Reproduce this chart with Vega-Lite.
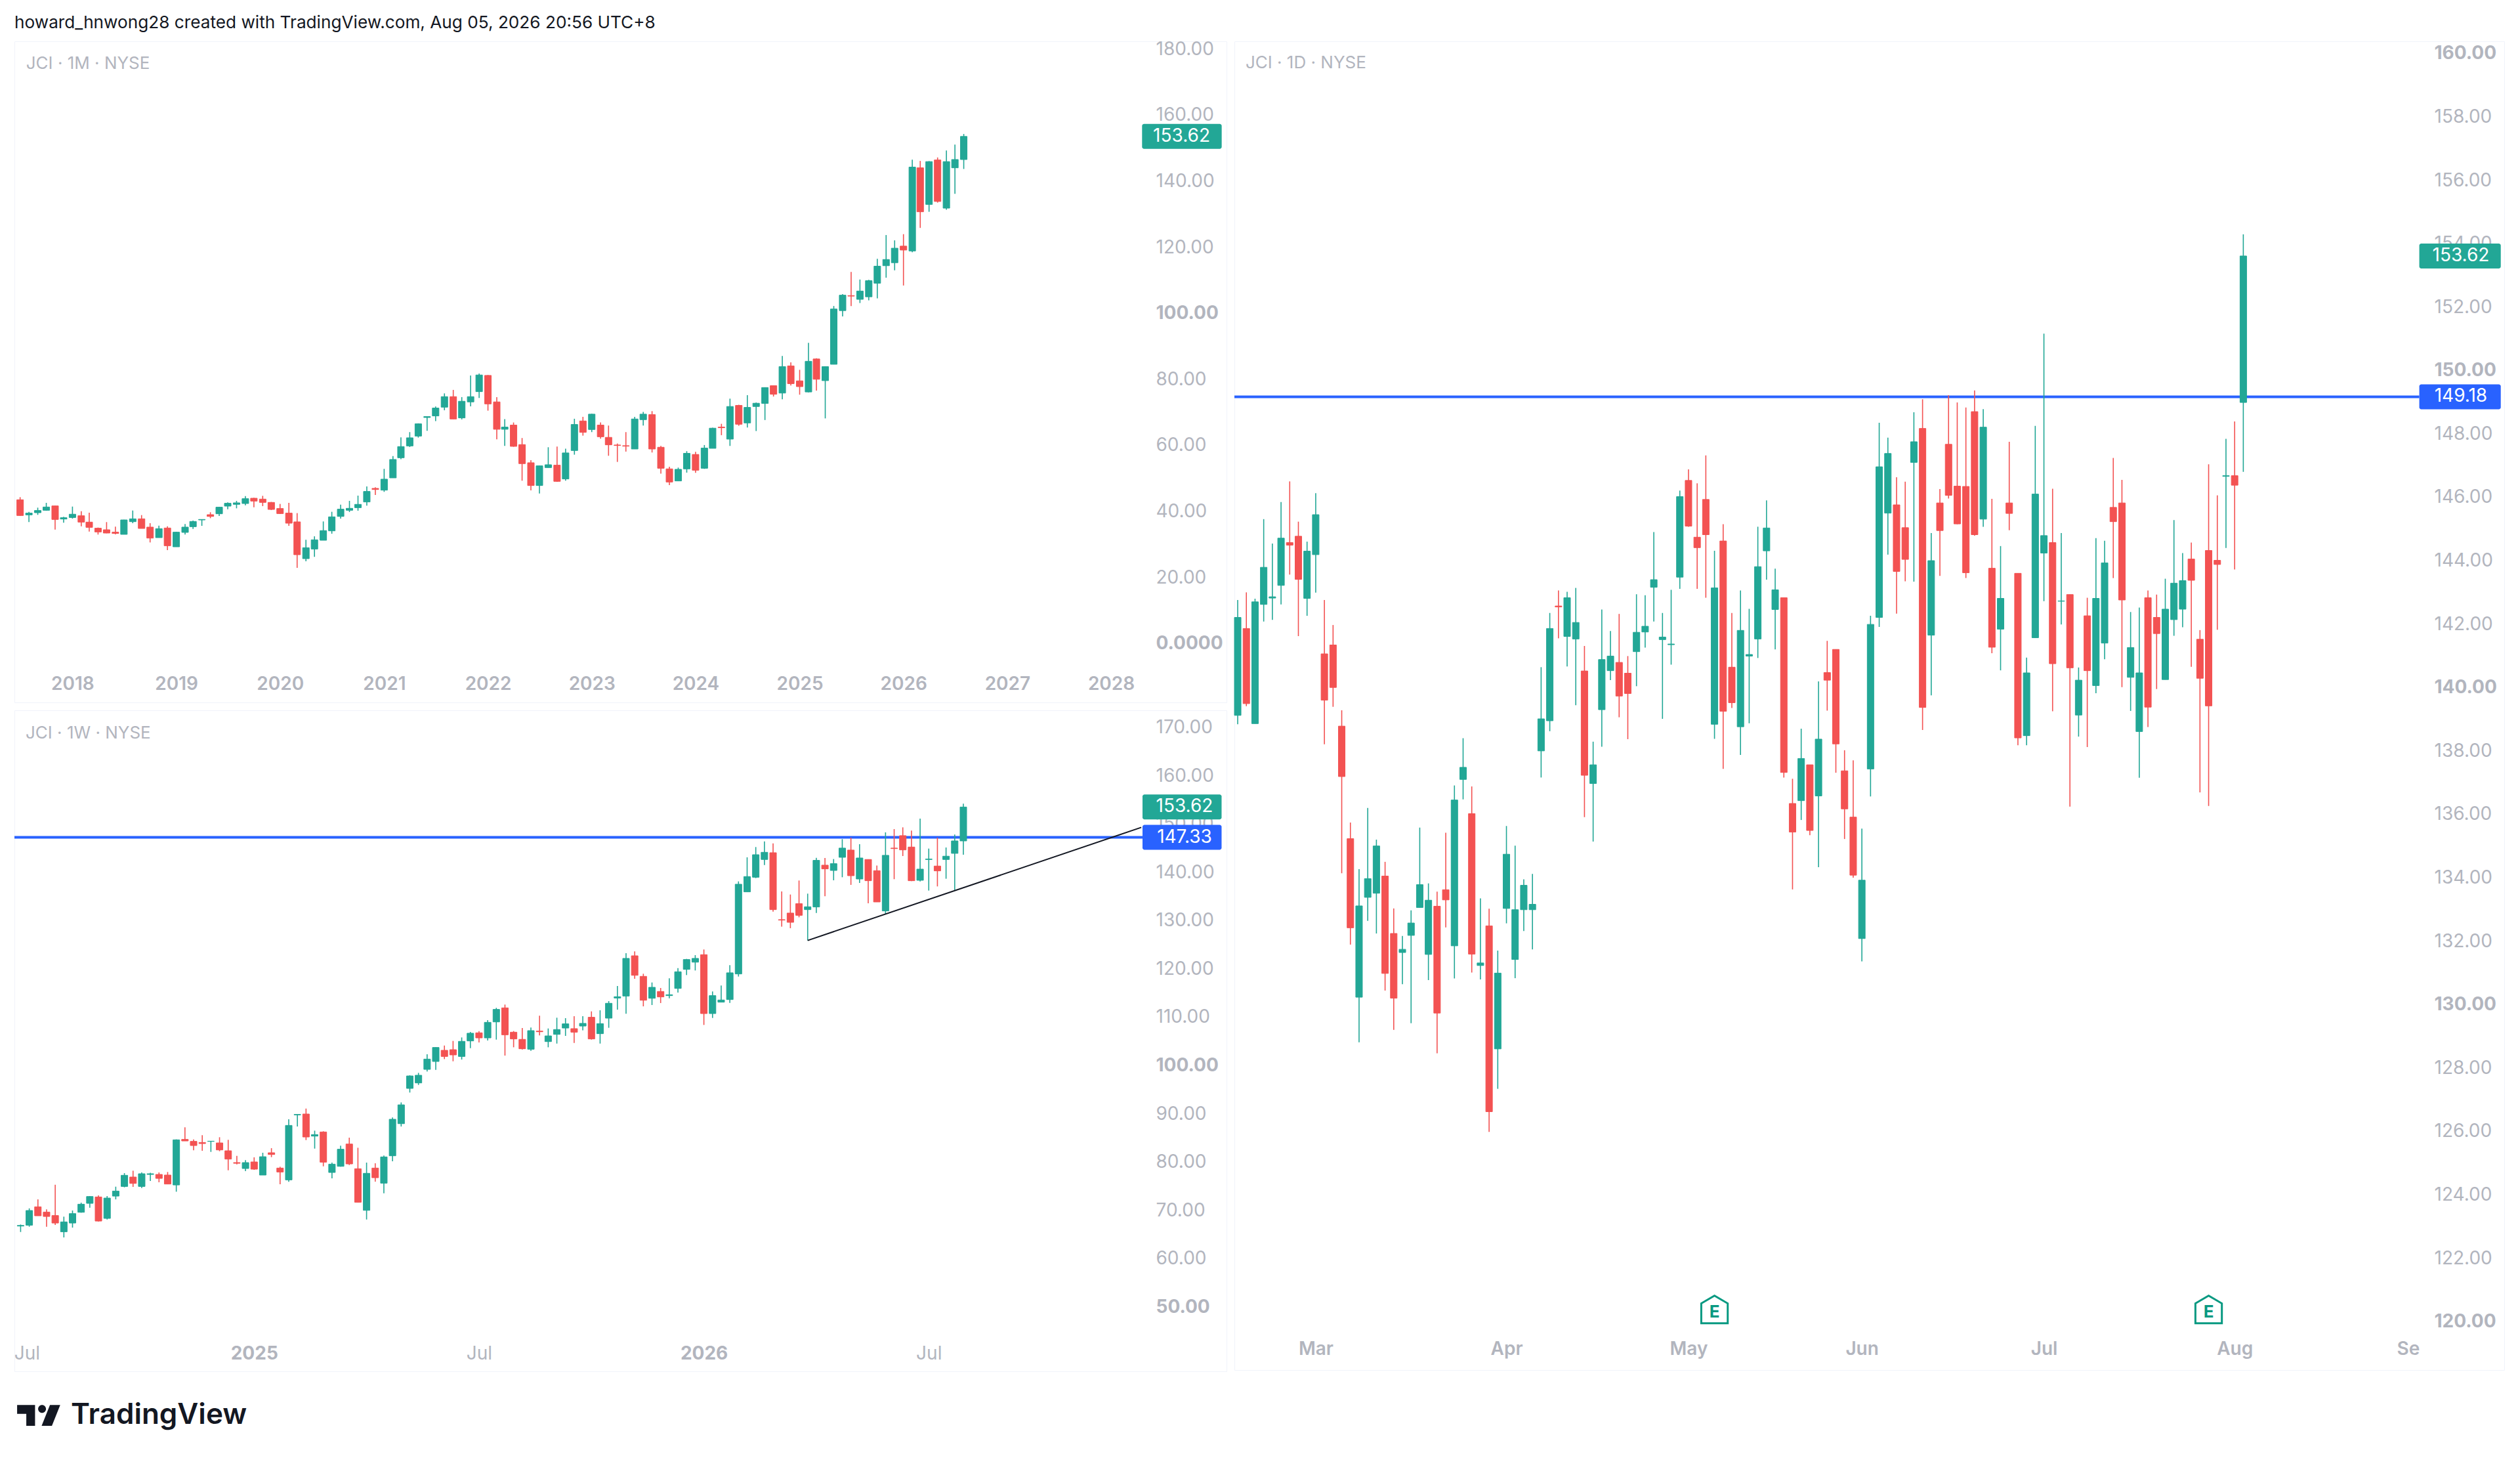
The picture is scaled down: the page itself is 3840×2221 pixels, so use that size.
{"$schema":"https://vega.github.io/schema/vega-lite/v6.json","background":"#ffffff","padding":{"left":19,"top":22,"right":0,"bottom":0},"spacing":8,"title":{"text":"howard_hnwong28 created with TradingView.com, Aug 05, 2026 20:56 UTC+8","anchor":"start","frame":"group","font":"Inter","fontSize":26.2,"fontWeight":400,"color":"#131722","offset":12},"config":{"view":{"stroke":"#f0f3fa"},"font":"Inter"},"hconcat":[{"vconcat":[{"width":1847,"height":1007,"data":{"values":[
{"d":"2017-07-01","o":43.64,"h":44.43,"l":38.80,"c":38.87},{"d":"2017-08-01","o":39.07,"h":40.00,"l":36.88,"c":39.60},{"d":"2017-09-01","o":39.73,"h":41.25,"l":39.07,"c":40.39},{"d":"2017-10-01","o":40.46,"h":42.71,"l":40.33,"c":41.45},{"d":"2017-11-01","o":41.78,"h":41.86,"l":34.63,"c":37.68},{"d":"2017-12-01","o":37.81,"h":38.47,"l":36.68,"c":38.21},
{"d":"2018-01-01","o":38.27,"h":41.58,"l":37.94,"c":39.27},{"d":"2018-02-01","o":38.80,"h":40.19,"l":35.62,"c":36.88},{"d":"2018-03-01","o":36.88,"h":39.73,"l":34.03,"c":35.29},{"d":"2018-04-01","o":35.03,"h":35.23,"l":33.11,"c":33.90},{"d":"2018-05-01","o":34.56,"h":36.88,"l":33.50,"c":33.57},{"d":"2018-06-01","o":33.83,"h":35.49,"l":33.17,"c":33.44},{"d":"2018-07-01","o":33.17,"h":37.61,"l":33.17,"c":37.54},{"d":"2018-08-01","o":37.01,"h":40.39,"l":36.55,"c":37.87},{"d":"2018-09-01","o":37.87,"h":39.00,"l":34.96,"c":34.96},{"d":"2018-10-01","o":35.36,"h":36.55,"l":30.72,"c":32.04},{"d":"2018-11-01","o":32.18,"h":35.82,"l":32.18,"c":34.89},{"d":"2018-12-01","o":35.09,"h":35.62,"l":28.40,"c":29.73},
{"d":"2019-01-01","o":29.40,"h":33.97,"l":29.40,"c":33.83},{"d":"2019-02-01","o":33.77,"h":36.28,"l":33.11,"c":35.36},{"d":"2019-03-01","o":35.49,"h":37.35,"l":34.83,"c":37.08},{"d":"2019-04-01","o":37.54,"h":37.74,"l":35.75,"c":37.68},{"d":"2019-05-01","o":39.13,"h":39.86,"l":38.07,"c":38.60},{"d":"2019-06-01","o":39.40,"h":41.45,"l":38.74,"c":41.39},{"d":"2019-07-01","o":41.72,"h":42.84,"l":40.79,"c":42.58},{"d":"2019-08-01","o":42.25,"h":43.31,"l":41.05,"c":42.71},{"d":"2019-09-01","o":42.51,"h":44.76,"l":41.98,"c":43.97},{"d":"2019-10-01","o":44.10,"h":44.24,"l":41.39,"c":43.24},{"d":"2019-11-01","o":43.84,"h":44.83,"l":41.72,"c":42.84},{"d":"2019-12-01","o":42.84,"h":42.98,"l":40.52,"c":40.72},
{"d":"2020-01-01","o":40.99,"h":42.38,"l":39.33,"c":39.46},{"d":"2020-02-01","o":39.60,"h":42.71,"l":35.75,"c":36.55},{"d":"2020-03-01","o":36.95,"h":39.60,"l":23.03,"c":27.01},{"d":"2020-04-01","o":25.82,"h":31.52,"l":25.02,"c":29.13},{"d":"2020-05-01","o":28.73,"h":32.58,"l":26.35,"c":31.52},{"d":"2020-06-01","o":31.38,"h":37.08,"l":31.38,"c":34.30},{"d":"2020-07-01","o":34.23,"h":40.00,"l":33.37,"c":38.47},{"d":"2020-08-01","o":38.60,"h":42.18,"l":37.94,"c":40.79},{"d":"2020-09-01","o":40.46,"h":43.31,"l":39.93,"c":41.05},{"d":"2020-10-01","o":41.25,"h":44.90,"l":40.33,"c":42.25},{"d":"2020-11-01","o":42.98,"h":47.68,"l":41.86,"c":46.16},{"d":"2020-12-01","o":47.08,"h":47.42,"l":45.10,"c":46.75},
{"d":"2021-01-01","o":46.56,"h":52.99,"l":46.03,"c":49.87},{"d":"2021-02-01","o":50.27,"h":56.89,"l":50.27,"c":55.83},{"d":"2021-03-01","o":56.36,"h":62.53,"l":55.90,"c":59.74},{"d":"2021-04-01","o":59.94,"h":64.12,"l":59.61,"c":62.39},{"d":"2021-05-01","o":62.92,"h":66.77,"l":62.46,"c":66.63},{"d":"2021-06-01","o":68.55,"h":68.82,"l":64.51,"c":68.82},{"d":"2021-07-01","o":69.02,"h":71.87,"l":67.43,"c":71.40},{"d":"2021-08-01","o":71.67,"h":75.84,"l":70.74,"c":74.85},{"d":"2021-09-01","o":74.85,"h":76.90,"l":68.09,"c":68.09},{"d":"2021-10-01","o":68.42,"h":74.72,"l":67.96,"c":73.46},{"d":"2021-11-01","o":73.26,"h":81.27,"l":71.93,"c":74.85},{"d":"2021-12-01","o":76.37,"h":81.87,"l":74.45,"c":81.41},
{"d":"2022-01-01","o":81.27,"h":81.41,"l":70.61,"c":72.66},{"d":"2022-02-01","o":73.26,"h":74.72,"l":61.93,"c":64.98},{"d":"2022-03-01","o":64.98,"h":68.02,"l":59.94,"c":65.64},{"d":"2022-04-01","o":66.24,"h":67.03,"l":59.68,"c":59.81},{"d":"2022-05-01","o":60.34,"h":62.33,"l":49.41,"c":54.58},{"d":"2022-06-01","o":54.84,"h":55.64,"l":46.49,"c":47.95},{"d":"2022-07-01","o":47.95,"h":54.05,"l":45.56,"c":53.91},{"d":"2022-08-01","o":53.38,"h":59.54,"l":53.38,"c":54.24},{"d":"2022-09-01","o":54.11,"h":59.74,"l":49.08,"c":49.21},{"d":"2022-10-01","o":49.94,"h":59.08,"l":49.41,"c":57.82},{"d":"2022-11-01","o":58.55,"h":68.16,"l":57.29,"c":66.43},{"d":"2022-12-01","o":67.49,"h":68.75,"l":63.05,"c":64.05},
{"d":"2023-01-01","o":64.91,"h":69.68,"l":64.12,"c":69.55},{"d":"2023-02-01","o":66.24,"h":67.03,"l":62.13,"c":62.72},{"d":"2023-03-01","o":62.53,"h":66.10,"l":56.96,"c":60.27},{"d":"2023-04-01","o":60.21,"h":60.67,"l":55.10,"c":60.07},{"d":"2023-05-01","o":60.01,"h":64.12,"l":58.22,"c":59.87},{"d":"2023-06-01","o":59.01,"h":68.75,"l":59.01,"c":68.09},{"d":"2023-07-01","o":67.89,"h":70.21,"l":66.10,"c":69.55},{"d":"2023-08-01","o":69.41,"h":70.47,"l":57.95,"c":59.01},{"d":"2023-09-01","o":59.54,"h":59.94,"l":51.53,"c":53.18},{"d":"2023-10-01","o":52.99,"h":53.65,"l":48.08,"c":49.01},{"d":"2023-11-01","o":49.34,"h":53.38,"l":49.34,"c":52.85},{"d":"2023-12-01","o":52.99,"h":58.35,"l":51.86,"c":57.69},
{"d":"2024-01-01","o":57.36,"h":58.15,"l":51.79,"c":52.59},{"d":"2024-02-01","o":53.18,"h":60.21,"l":52.99,"c":59.28},{"d":"2024-03-01","o":59.21,"h":65.44,"l":59.21,"c":65.31},{"d":"2024-04-01","o":65.64,"h":66.63,"l":63.19,"c":65.44},{"d":"2024-05-01","o":62.00,"h":74.25,"l":59.94,"c":71.87},{"d":"2024-06-01","o":72.20,"h":72.40,"l":66.04,"c":66.50},{"d":"2024-07-01","o":66.90,"h":75.31,"l":65.51,"c":71.60},{"d":"2024-08-01","o":71.87,"h":73.06,"l":64.45,"c":72.86},{"d":"2024-09-01","o":72.80,"h":77.68,"l":67.78,"c":77.61},{"d":"2024-10-01","o":78.17,"h":78.24,"l":74.89,"c":75.59},{"d":"2024-11-01","o":75.94,"h":87.16,"l":74.05,"c":83.95},{"d":"2024-12-01","o":84.16,"h":85.21,"l":78.24,"c":78.79},
{"d":"2025-01-01","o":79.63,"h":82.98,"l":75.45,"c":77.89},{"d":"2025-02-01","o":76.28,"h":91.13,"l":76.14,"c":85.56},{"d":"2025-03-01","o":86.26,"h":86.46,"l":76.70,"c":80.12},{"d":"2025-04-01","o":79.70,"h":84.02,"l":68.27,"c":83.95},{"d":"2025-05-01","o":84.65,"h":102.29,"l":84.65,"c":101.38},{"d":"2025-06-01","o":100.90,"h":105.92,"l":99.15,"c":105.57},{"d":"2025-07-01","o":105.43,"h":112.61,"l":102.29,"c":105.29},{"d":"2025-08-01","o":104.31,"h":110.31,"l":103.20,"c":106.82},{"d":"2025-09-01","o":105.08,"h":110.24,"l":104.03,"c":109.96},{"d":"2025-10-01","o":109.19,"h":116.58,"l":104.59,"c":114.35},{"d":"2025-11-01","o":114.49,"h":123.77,"l":110.87,"c":116.37},{"d":"2025-12-01","o":115.40,"h":122.16,"l":113.10,"c":119.79},
{"d":"2026-01-01","o":120.42,"h":124.04,"l":108.50,"c":119.23},{"d":"2026-02-01","o":118.95,"h":146.56,"l":118.54,"c":144.33},{"d":"2026-03-01","o":144.12,"h":146.21,"l":125.93,"c":130.81},{"d":"2026-04-01","o":133.04,"h":146.14,"l":130.81,"c":146.00},{"d":"2026-05-01","o":146.49,"h":147.26,"l":133.59,"c":133.94},{"d":"2026-06-01","o":131.92,"h":149.35,"l":131.43,"c":146.00},{"d":"2026-07-01","o":144.12,"h":151.16,"l":136.24,"c":146.63},{"d":"2026-08-01","o":146.63,"h":154.37,"l":143.77,"c":153.62}
]},"layer":[
{"mark":{"type":"rule","size":1.6},"encoding":{"x":{"field":"d","type":"temporal","scale":{"type":"utc","domain":["2017-06-11","2029-02-10"],"padding":0},"axis":{"title":null,"domain":false,"ticks":false,"grid":false,"labelPadding":-28,"labelBaseline":"middle","labelColor":"#b2b5be","labelFontSize":28,"labelFont":"Inter","labelFontWeight":600,"labelFlush":false,"labelOverlap":false,"values":["2018-01-01","2019-01-01","2020-01-01","2021-01-01","2022-01-01","2023-01-01","2024-01-01","2025-01-01","2026-01-01","2027-01-01","2028-01-01"],"labelExpr":"utcFormat(datum.value,'%Y')"}},"y":{"field":"l","type":"quantitative","scale":{"domain":[-17.7,182.4],"nice":false,"zero":false,"padding":0},"axis":{"title":null,"orient":"right","domain":false,"ticks":false,"grid":false,"labelPadding":-108,"labelAlign":"left","labelColor":"#b2b5be","labelFontSize":28,"labelFont":"Inter","labelOverlap":false,"labelFlush":false,"values":[0,20,40,60,80,100,120,140,160,180],"labelExpr":"datum.value==0?'0.0000':format(datum.value,'.2f')","labelFontWeight":{"condition":{"test":"datum.value==0||datum.value==100","value":700},"value":400}}},"y2":{"field":"h"},"color":{"condition":{"test":"datum.c>=datum.o","value":"#22a796"},"value":"#f35252"}}},
{"mark":{"type":"bar","size":10,"strokeWidth":1},"encoding":{"x":{"field":"d","type":"temporal"},"y":{"field":"o","type":"quantitative"},"y2":{"field":"c"},"color":{"condition":{"test":"datum.c>=datum.o","value":"#22a796"},"value":"#f35252"},"stroke":{"condition":{"test":"datum.c>=datum.o","value":"#22a796"},"value":"#f35252"}}},
{"data":{"values":[{"price":153.62}]},"mark":{"type":"bar","orient":"horizontal","size":38,"cornerRadius":3,"color":"#22a796"},"encoding":{"x":{"datum":{"year":2028,"month":4,"date":19,"utc":true},"type":"temporal"},"x2":{"datum":{"year":2029,"month":1,"date":24,"utc":true}},"y":{"field":"price","type":"quantitative"}}},
{"data":{"values":[{"price":153.62}]},"mark":{"type":"text","font":"Inter","fontSize":28,"color":"#ffffff"},"encoding":{"x":{"datum":{"year":2028,"month":9,"date":5,"utc":true},"type":"temporal"},"y":{"field":"price","type":"quantitative"},"text":{"field":"price","type":"quantitative","format":".2f"}}},
{"data":{"values":[{"label":"JCI · 1M · NYSE"}]},"mark":{"type":"text","font":"Inter","fontSize":26,"color":"#b2b5be","align":"left"},"encoding":{"x":{"datum":{"year":2017,"month":7,"date":22,"utc":true},"type":"temporal"},"y":{"datum":175.6},"text":{"field":"label"}}}
]},
{"width":1847,"height":1007,"data":{"values":[
{"d":"2024-07-01","o":66.78,"h":67.10,"l":65.55,"c":66.91},{"d":"2024-07-08","o":66.96,"h":70.45,"l":66.64,"c":70.00},{"d":"2024-07-15","o":70.77,"h":72.31,"l":68.91,"c":68.91},{"d":"2024-07-22","o":69.68,"h":70.23,"l":66.64,"c":68.77},{"d":"2024-07-29","o":68.96,"h":75.35,"l":67.01,"c":67.41},{"d":"2024-08-05","o":65.60,"h":68.73,"l":64.42,"c":67.64},{"d":"2024-08-12","o":67.41,"h":70.00,"l":66.46,"c":69.36},{"d":"2024-08-19","o":69.64,"h":71.63,"l":69.55,"c":71.31},{"d":"2024-08-26","o":71.49,"h":72.99,"l":70.59,"c":72.90},{"d":"2024-09-02","o":72.81,"h":73.13,"l":67.73,"c":67.82},{"d":"2024-09-09","o":68.37,"h":72.99,"l":68.14,"c":72.58},{"d":"2024-09-16","o":72.99,"h":74.94,"l":72.31,"c":74.03},{"d":"2024-09-23","o":74.99,"h":77.75,"l":74.81,"c":77.30},{"d":"2024-09-30","o":76.94,"h":78.25,"l":74.90,"c":75.62},
{"d":"2024-10-07","o":74.99,"h":77.89,"l":74.67,"c":77.62},{"d":"2024-10-14","o":77.48,"h":77.84,"l":76.12,"c":77.62},{"d":"2024-10-21","o":77.48,"h":77.89,"l":75.85,"c":76.66},{"d":"2024-10-28","o":77.35,"h":77.98,"l":75.44,"c":75.49},{"d":"2024-11-04","o":75.30,"h":84.74,"l":73.90,"c":84.65},{"d":"2024-11-11","o":84.74,"h":87.23,"l":84.42,"c":84.42},{"d":"2024-11-18","o":84.33,"h":84.74,"l":82.47,"c":83.47},{"d":"2024-11-25","o":84.10,"h":85.60,"l":82.38,"c":83.88},{"d":"2024-12-02","o":84.33,"h":84.42,"l":82.15,"c":84.37},{"d":"2024-12-09","o":84.01,"h":85.19,"l":82.29,"c":82.56},{"d":"2024-12-16","o":82.38,"h":84.65,"l":78.34,"c":80.66},{"d":"2024-12-23","o":79.93,"h":81.34,"l":79.57,"c":79.79},{"d":"2024-12-30","o":78.71,"h":80.43,"l":78.16,"c":79.93},
{"d":"2025-01-06","o":80.07,"h":81.02,"l":78.43,"c":78.57},{"d":"2025-01-13","o":77.35,"h":81.97,"l":77.35,"c":81.15},{"d":"2025-01-20","o":81.97,"h":82.92,"l":81.06,"c":81.61},{"d":"2025-01-27","o":78.80,"h":79.07,"l":75.44,"c":77.98},{"d":"2025-02-03","o":76.35,"h":88.91,"l":75.94,"c":87.64},{"d":"2025-02-10","o":89.82,"h":89.95,"l":87.41,"c":89.91},{"d":"2025-02-17","o":90.00,"h":91.13,"l":84.60,"c":85.24},{"d":"2025-02-24","o":85.42,"h":86.55,"l":82.83,"c":85.73},{"d":"2025-03-03","o":86.28,"h":86.42,"l":79.16,"c":80.02},{"d":"2025-03-10","o":77.89,"h":79.93,"l":76.66,"c":79.61},{"d":"2025-03-17","o":79.16,"h":83.42,"l":79.07,"c":82.70},{"d":"2025-03-24","o":83.78,"h":85.10,"l":79.43,"c":79.66},{"d":"2025-03-31","o":78.66,"h":83.01,"l":71.68,"c":71.72},
{"d":"2025-04-07","o":70.04,"h":79.93,"l":68.14,"c":77.71},{"d":"2025-04-14","o":78.80,"h":79.79,"l":75.98,"c":76.80},{"d":"2025-04-21","o":75.67,"h":81.38,"l":73.58,"c":81.11},{"d":"2025-04-28","o":81.34,"h":89.27,"l":80.20,"c":88.91},{"d":"2025-05-05","o":88.00,"h":92.40,"l":87.41,"c":91.90},{"d":"2025-05-12","o":95.31,"h":98.03,"l":94.45,"c":97.89},{"d":"2025-05-19","o":96.44,"h":98.53,"l":96.03,"c":98.03},{"d":"2025-05-26","o":99.25,"h":102.38,"l":98.80,"c":101.38},{"d":"2025-06-02","o":100.89,"h":103.83,"l":99.16,"c":103.79},{"d":"2025-06-09","o":103.20,"h":104.19,"l":101.38,"c":101.93},{"d":"2025-06-16","o":103.33,"h":105.15,"l":100.93,"c":102.25},{"d":"2025-06-23","o":101.93,"h":105.87,"l":101.29,"c":105.06},{"d":"2025-06-30","o":105.15,"h":107.01,"l":103.65,"c":106.74},
{"d":"2025-07-07","o":106.83,"h":107.19,"l":104.83,"c":105.78},{"d":"2025-07-14","o":105.78,"h":109.46,"l":105.24,"c":109.00},{"d":"2025-07-21","o":109.09,"h":112.00,"l":105.42,"c":111.68},{"d":"2025-07-28","o":112.00,"h":112.68,"l":102.11,"c":106.42},{"d":"2025-08-04","o":106.96,"h":107.19,"l":103.83,"c":105.56},{"d":"2025-08-11","o":105.47,"h":107.82,"l":103.38,"c":103.52},{"d":"2025-08-18","o":103.43,"h":107.91,"l":103.11,"c":107.28},{"d":"2025-08-25","o":107.19,"h":110.36,"l":106.28,"c":107.05},{"d":"2025-09-01","o":105.01,"h":107.73,"l":103.83,"c":106.19},{"d":"2025-09-08","o":106.51,"h":109.96,"l":104.60,"c":107.51},{"d":"2025-09-15","o":107.82,"h":109.87,"l":106.19,"c":108.69},{"d":"2025-09-22","o":107.69,"h":110.27,"l":104.74,"c":106.96},{"d":"2025-09-29","o":108.23,"h":110.27,"l":107.33,"c":108.78},
{"d":"2025-10-06","o":110.05,"h":111.27,"l":105.42,"c":105.56},{"d":"2025-10-13","o":106.65,"h":111.50,"l":104.60,"c":108.73},{"d":"2025-10-20","o":109.87,"h":113.40,"l":107.87,"c":112.95},{"d":"2025-10-27","o":114.04,"h":116.53,"l":111.63,"c":114.31},{"d":"2025-11-03","o":114.45,"h":123.33,"l":110.77,"c":122.25},{"d":"2025-11-10","o":122.79,"h":123.70,"l":118.03,"c":118.75},{"d":"2025-11-17","o":118.53,"h":119.07,"l":112.31,"c":113.58},{"d":"2025-11-24","o":113.99,"h":117.26,"l":112.59,"c":116.26},{"d":"2025-12-01","o":115.40,"h":116.12,"l":113.00,"c":114.27},{"d":"2025-12-08","o":114.54,"h":118.12,"l":113.99,"c":114.72},{"d":"2025-12-15","o":116.03,"h":120.25,"l":115.17,"c":119.48},{"d":"2025-12-22","o":119.98,"h":122.15,"l":118.80,"c":122.02},{"d":"2025-12-29","o":121.47,"h":122.93,"l":119.75,"c":122.25},
{"d":"2026-01-05","o":123.02,"h":124.10,"l":108.46,"c":110.82},{"d":"2026-01-12","o":110.82,"h":115.40,"l":109.91,"c":114.54},{"d":"2026-01-19","o":113.18,"h":116.63,"l":113.18,"c":113.63},{"d":"2026-01-26","o":113.72,"h":120.84,"l":113.04,"c":119.26},{"d":"2026-02-02","o":119.03,"h":138.21,"l":118.49,"c":137.62},{"d":"2026-02-09","o":136.04,"h":143.20,"l":136.04,"c":139.21},{"d":"2026-02-16","o":139.07,"h":145.33,"l":138.89,"c":143.74},{"d":"2026-02-23","o":142.75,"h":146.51,"l":141.61,"c":144.24},{"d":"2026-03-02","o":144.15,"h":146.10,"l":131.95,"c":132.36},{"d":"2026-03-09","o":130.28,"h":136.13,"l":128.83,"c":130.19},{"d":"2026-03-16","o":131.64,"h":135.49,"l":128.51,"c":129.73},{"d":"2026-03-23","o":133.59,"h":138.39,"l":130.77,"c":131.18},{"d":"2026-03-30","o":132.36,"h":135.67,"l":125.97,"c":132.95},
{"d":"2026-04-06","o":132.91,"h":143.11,"l":131.68,"c":142.57},{"d":"2026-04-13","o":141.57,"h":143.06,"l":135.13,"c":140.80},{"d":"2026-04-20","o":140.48,"h":142.84,"l":138.44,"c":141.89},{"d":"2026-04-27","o":143.20,"h":146.96,"l":139.07,"c":145.11},{"d":"2026-05-04","o":144.70,"h":147.28,"l":137.49,"c":139.39},{"d":"2026-05-11","o":138.71,"h":145.92,"l":137.89,"c":143.06},{"d":"2026-05-18","o":142.75,"h":142.75,"l":133.68,"c":138.35},{"d":"2026-05-25","o":140.43,"h":141.48,"l":133.95,"c":133.95},{"d":"2026-06-01","o":132.09,"h":148.37,"l":131.46,"c":143.61},{"d":"2026-06-08","o":145.11,"h":149.05,"l":138.67,"c":145.01},{"d":"2026-06-15","o":147.69,"h":149.41,"l":143.47,"c":144.74},{"d":"2026-06-22","o":145.33,"h":148.73,"l":138.26,"c":138.35},{"d":"2026-06-29","o":138.44,"h":151.23,"l":138.21,"c":140.75},{"d":"2026-07-06","o":142.75,"h":145.01,"l":136.31,"c":142.84},{"d":"2026-07-13","o":141.39,"h":147.28,"l":137.17,"c":140.39},{"d":"2026-07-20","o":142.75,"h":145.24,"l":138.76,"c":143.43},{"d":"2026-07-27","o":144.02,"h":147.92,"l":136.40,"c":146.60},{"d":"2026-08-03","o":146.60,"h":154.31,"l":143.74,"c":153.62}
]},"layer":[
{"data":{"values":[{"price":147.33}]},"mark":{"type":"rule","size":4,"color":"#2962ff"},"encoding":{"x":{"datum":{"year":2024,"month":6,"date":26,"utc":true},"type":"temporal","scale":{"type":"utc","domain":["2024-06-26","2027-03-04"],"padding":0},"axis":{"title":null,"domain":false,"ticks":false,"grid":false,"labelPadding":-27,"labelBaseline":"middle","labelColor":"#b2b5be","labelFontSize":28,"labelFont":"Inter","labelFlush":false,"labelOverlap":false,"values":["2024-07-06","2025-01-06","2025-07-07","2026-01-05","2026-07-06"],"labelExpr":"utcmonth(datum.value)==0?utcFormat(datum.value,'%Y'):'Jul'","labelFontWeight":{"condition":{"test":"utcmonth(datum.value)==0","value":700},"value":400}}},"x2":{"datum":{"year":2026,"month":12,"date":26,"utc":true}},"y":{"field":"price","type":"quantitative","scale":{"domain":[36.67,173.67],"nice":false,"zero":false,"padding":0},"axis":{"title":null,"orient":"right","domain":false,"ticks":false,"grid":false,"labelPadding":-108,"labelAlign":"left","labelColor":"#b2b5be","labelFontSize":28,"labelFont":"Inter","labelOverlap":false,"labelFlush":false,"values":[50,60,70,80,90,100,110,120,130,140,150,160,170],"format":".2f","labelFontWeight":{"condition":{"test":"datum.value==50||datum.value==100","value":700},"value":400}}}}},
{"mark":{"type":"rule","size":1.6},"encoding":{"x":{"field":"d","type":"temporal"},"y":{"field":"l","type":"quantitative"},"y2":{"field":"h"},"color":{"condition":{"test":"datum.c>=datum.o","value":"#22a796"},"value":"#f35252"}}},
{"mark":{"type":"bar","size":10,"strokeWidth":1},"encoding":{"x":{"field":"d","type":"temporal"},"y":{"field":"o","type":"quantitative"},"y2":{"field":"c"},"color":{"condition":{"test":"datum.c>=datum.o","value":"#22a796"},"value":"#f35252"},"stroke":{"condition":{"test":"datum.c>=datum.o","value":"#22a796"},"value":"#f35252"}}},
{"data":{"values":[{"d":"2026-03-30","price":125.97},{"d":"2026-12-25","price":149.4}]},"mark":{"type":"line","color":"#131722","strokeWidth":2},"encoding":{"x":{"field":"d","type":"temporal"},"y":{"field":"price","type":"quantitative"}}},
{"data":{"values":[{"price":153.62,"tag":"up"},{"price":147.33,"tag":"level"}]},"mark":{"type":"bar","orient":"horizontal","size":38,"cornerRadius":3},"encoding":{"x":{"datum":{"year":2026,"month":12,"date":26,"utc":true},"type":"temporal"},"x2":{"datum":{"year":2027,"month":2,"date":28,"utc":true}},"y":{"field":"price","type":"quantitative"},"color":{"field":"tag","type":"nominal","scale":{"domain":["up","level"],"range":["#22a796","#2962ff"]},"legend":null}}},
{"data":{"values":[{"price":153.62},{"price":147.33}]},"mark":{"type":"text","font":"Inter","fontSize":28,"color":"#ffffff"},"encoding":{"x":{"datum":{"year":2027,"month":1,"date":29,"utc":true},"type":"temporal"},"y":{"field":"price","type":"quantitative"},"text":{"field":"price","type":"quantitative","format":".2f"}}},
{"data":{"values":[{"label":"JCI · 1W · NYSE"}]},"mark":{"type":"text","font":"Inter","fontSize":26,"color":"#b2b5be","align":"left"},"encoding":{"x":{"datum":{"year":2024,"month":7,"date":5,"utc":true},"type":"temporal"},"y":{"datum":168.9},"text":{"field":"label"}}}
]},
{"width":1847,"height":100,"view":{"stroke":null},"data":{"values":[{"label":"TradingView"}]},"layer":[
{"mark":{"type":"point","filled":true,"color":"#131722","opacity":1,"size":17424,"shape":"M-0.495 -0.237H-0.081V0.242H-0.283V-0.035H-0.495ZM-0.01 -0.146A0.091 0.091 0 1 1 0.172 -0.146A0.091 0.091 0 1 1 -0.01 -0.146ZM0.263 -0.237H0.5L0.308 0.242H0.071Z"},"encoding":{"x":{"datum":0.0199,"scale":{"domain":[0,1]},"axis":null},"y":{"datum":0.45,"scale":{"domain":[0,1]},"axis":null}}},
{"mark":{"type":"text","font":"Inter","fontSize":44,"fontWeight":600,"color":"#131722","align":"left"},"encoding":{"x":{"datum":0.0466},"y":{"datum":0.45},"text":{"field":"label"}}}
]}
],"spacing":12,"bounds":"flush"},
{"width":1935,"height":2024,"data":{"values":[
{"i":1,"o":139.13,"h":142.77,"l":138.85,"c":142.22},{"i":2,"o":141.87,"h":143.01,"l":139.42,"c":139.50},{"i":3,"o":138.87,"h":142.81,"l":138.87,"c":142.71},{"i":4,"o":142.63,"h":145.32,"l":142.09,"c":143.80},{"i":5,"o":142.83,"h":144.55,"l":142.14,"c":142.87},{"i":6,"o":143.23,"h":145.86,"l":142.63,"c":144.72},{"i":7,"o":144.58,"h":146.51,"l":143.57,"c":144.50},{"i":8,"o":144.78,"h":145.24,"l":141.63,"c":143.42},{"i":9,"o":142.82,"h":144.61,"l":142.27,"c":144.31},{"i":10,"o":144.20,"h":146.14,"l":143.00,"c":145.46},
{"i":11,"o":141.07,"h":142.77,"l":138.22,"c":139.61},{"i":12,"o":141.35,"h":141.98,"l":139.40,"c":140.01},{"i":13,"o":138.79,"h":139.29,"l":134.15,"c":137.20},{"i":14,"o":135.24,"h":135.75,"l":131.90,"c":132.43},{"i":15,"o":130.24,"h":134.28,"l":128.82,"c":133.12},{"i":16,"o":133.39,"h":136.21,"l":132.65,"c":133.98},{"i":17,"o":133.52,"h":135.21,"l":132.25,"c":135.01},{"i":18,"o":134.06,"h":134.51,"l":130.45,"c":130.99},{"i":19,"o":132.25,"h":133.04,"l":129.21,"c":130.21},{"i":20,"o":131.65,"h":132.17,"l":130.65,"c":131.75},
{"i":21,"o":132.19,"h":132.98,"l":129.42,"c":132.58},{"i":22,"o":133.07,"h":135.59,"l":133.07,"c":133.79},{"i":23,"o":131.59,"h":133.83,"l":130.78,"c":133.30},{"i":24,"o":133.11,"h":133.57,"l":128.47,"c":129.74},{"i":25,"o":133.63,"h":135.43,"l":132.44,"c":133.31},{"i":26,"o":131.86,"h":136.92,"l":130.83,"c":136.46},{"i":27,"o":137.11,"h":138.41,"l":136.48,"c":137.49},{"i":28,"o":136.03,"h":136.89,"l":131.02,"c":131.60},{"i":29,"o":131.24,"h":133.36,"l":130.80,"c":131.32},{"i":30,"o":132.49,"h":133.03,"l":125.99,"c":126.63},
{"i":31,"o":128.61,"h":131.71,"l":127.35,"c":131.00},{"i":32,"o":133.04,"h":135.64,"l":132.57,"c":134.75},{"i":33,"o":131.43,"h":135.02,"l":130.84,"c":133.00},{"i":34,"o":133.00,"h":133.96,"l":132.33,"c":133.77},{"i":35,"o":133.00,"h":134.13,"l":131.75,"c":133.17},{"i":36,"o":138.01,"h":140.65,"l":137.17,"c":139.02},{"i":37,"o":138.96,"h":142.36,"l":138.63,"c":141.87},{"i":38,"o":142.58,"h":143.07,"l":141.56,"c":142.55},{"i":39,"o":141.62,"h":143.03,"l":140.67,"c":142.84},{"i":40,"o":141.54,"h":143.15,"l":139.45,"c":142.06},
{"i":41,"o":140.53,"h":141.32,"l":135.92,"c":137.24},{"i":42,"o":136.98,"h":138.30,"l":135.15,"c":137.57},{"i":43,"o":139.31,"h":142.47,"l":138.14,"c":140.89},{"i":44,"o":140.54,"h":141.79,"l":140.24,"c":141.00},{"i":45,"o":140.80,"h":142.33,"l":139.07,"c":139.74},{"i":46,"o":140.46,"h":141.00,"l":138.38,"c":139.82},{"i":47,"o":141.14,"h":142.95,"l":140.05,"c":141.75},{"i":48,"o":141.76,"h":142.92,"l":141.27,"c":141.94},{"i":49,"o":143.17,"h":144.91,"l":142.09,"c":143.41},{"i":50,"o":141.52,"h":142.36,"l":139.02,"c":141.60},
{"i":51,"o":141.36,"h":143.09,"l":140.73,"c":141.38},{"i":52,"o":143.49,"h":146.22,"l":143.12,"c":146.03},{"i":53,"o":146.54,"h":146.89,"l":145.08,"c":145.10},{"i":54,"o":144.75,"h":146.45,"l":143.12,"c":144.42},{"i":55,"o":145.94,"h":147.33,"l":142.84,"c":144.83},{"i":56,"o":138.85,"h":144.32,"l":138.39,"c":143.15},{"i":57,"o":144.63,"h":145.16,"l":137.44,"c":139.26},{"i":58,"o":140.65,"h":142.36,"l":139.36,"c":139.53},{"i":59,"o":138.77,"h":143.07,"l":137.88,"c":141.81},{"i":60,"o":141.00,"h":142.49,"l":138.88,"c":141.05},
{"i":61,"o":141.54,"h":145.08,"l":140.94,"c":143.82},{"i":62,"o":144.32,"h":145.91,"l":143.41,"c":145.04},{"i":63,"o":142.47,"h":143.76,"l":141.21,"c":143.09},{"i":64,"o":142.84,"h":142.84,"l":137.17,"c":137.33},{"i":65,"o":136.35,"h":137.13,"l":133.64,"c":135.45},{"i":66,"o":136.44,"h":138.71,"l":135.83,"c":137.77},{"i":67,"o":137.57,"h":137.57,"l":135.35,"c":135.50},{"i":68,"o":136.59,"h":140.20,"l":134.34,"c":138.38},{"i":69,"o":140.48,"h":141.48,"l":139.28,"c":140.24},{"i":70,"o":141.21,"h":141.21,"l":137.32,"c":138.23},
{"i":71,"o":137.38,"h":138.03,"l":135.23,"c":136.18},{"i":72,"o":135.92,"h":137.71,"l":134.01,"c":134.09},{"i":73,"o":132.09,"h":135.56,"l":131.37,"c":133.93},{"i":74,"o":137.44,"h":142.27,"l":136.57,"c":142.00},{"i":75,"o":142.22,"h":148.36,"l":141.92,"c":146.97},{"i":76,"o":145.51,"h":147.89,"l":144.20,"c":147.39},{"i":77,"o":145.77,"h":146.64,"l":142.34,"c":143.67},{"i":78,"o":145.05,"h":146.50,"l":143.36,"c":144.05},{"i":79,"o":147.11,"h":148.69,"l":143.35,"c":147.76},{"i":80,"o":148.18,"h":149.10,"l":138.67,"c":139.38},
{"i":81,"o":141.66,"h":144.88,"l":139.76,"c":144.01},{"i":82,"o":145.83,"h":146.27,"l":143.53,"c":144.96},{"i":83,"o":147.68,"h":149.23,"l":145.97,"c":146.07},{"i":84,"o":146.36,"h":149.00,"l":145.16,"c":145.17},{"i":85,"o":146.35,"h":148.84,"l":143.46,"c":143.63},{"i":86,"o":148.71,"h":149.38,"l":144.80,"c":144.83},{"i":87,"o":145.32,"h":148.79,"l":145.08,"c":148.22},{"i":88,"o":143.77,"h":145.96,"l":141.09,"c":141.28},{"i":89,"o":141.85,"h":144.47,"l":140.55,"c":142.82},{"i":90,"o":145.83,"h":147.76,"l":144.97,"c":145.50},
{"i":91,"o":143.61,"h":143.61,"l":138.19,"c":138.42},{"i":92,"o":138.49,"h":140.95,"l":138.19,"c":140.47},{"i":93,"o":141.58,"h":148.26,"l":141.58,"c":146.11},{"i":94,"o":144.25,"h":151.17,"l":142.73,"c":144.80},{"i":95,"o":144.58,"h":146.28,"l":139.26,"c":140.76},{"i":96,"o":142.73,"h":144.88,"l":142.00,"c":142.74},{"i":97,"o":142.94,"h":142.94,"l":136.25,"c":140.63},{"i":98,"o":139.14,"h":140.64,"l":138.46,"c":140.24},{"i":99,"o":142.27,"h":142.84,"l":138.13,"c":140.54},{"i":100,"o":140.07,"h":144.72,"l":139.83,"c":142.82},
{"i":101,"o":141.41,"h":144.64,"l":140.90,"c":143.94},{"i":102,"o":145.69,"h":147.25,"l":143.46,"c":145.24},{"i":103,"o":145.83,"h":146.56,"l":140.02,"c":142.77},{"i":104,"o":140.33,"h":142.39,"l":139.27,"c":141.27},{"i":105,"o":138.62,"h":142.53,"l":137.16,"c":140.47},{"i":106,"o":142.84,"h":143.07,"l":138.76,"c":139.39},{"i":107,"o":142.22,"h":142.94,"l":139.96,"c":141.71},{"i":108,"o":140.26,"h":143.44,"l":140.26,"c":142.48},{"i":109,"o":142.15,"h":145.29,"l":141.64,"c":143.30},{"i":110,"o":142.48,"h":144.25,"l":141.91,"c":143.38},
{"i":111,"o":144.06,"h":144.58,"l":140.66,"c":143.39},{"i":112,"o":141.53,"h":141.82,"l":136.70,"c":140.30},{"i":113,"o":144.33,"h":147.05,"l":136.27,"c":139.43},{"i":114,"o":144.02,"h":146.07,"l":141.83,"c":143.89},{"i":115,"o":146.67,"h":147.85,"l":144.41,"c":146.69},{"i":116,"o":146.69,"h":148.40,"l":143.73,"c":146.39},{"i":117,"o":149.00,"h":154.30,"l":146.81,"c":153.62}
]},"layer":[
{"data":{"values":[{"price":149.18}]},"mark":{"type":"rule","size":4,"color":"#2962ff"},"encoding":{"x":{"datum":0.62,"type":"quantitative","scale":{"domain":[0.62,147.1],"nice":false,"zero":false,"padding":0},"axis":{"title":null,"domain":false,"ticks":false,"grid":false,"labelPadding":-32,"labelBaseline":"middle","labelColor":"#b2b5be","labelFontSize":28,"labelFont":"Inter","labelFontWeight":600,"labelFlush":false,"labelOverlap":false,"values":[10,32,53,73,94,116,136],"labelExpr":"datum.value==10?'Mar':datum.value==32?'Apr':datum.value==53?'May':datum.value==73?'Jun':datum.value==94?'Jul':datum.value==116?'Aug':'Se'"}},"x2":{"datum":137.3},"y":{"field":"price","type":"quantitative","scale":{"domain":[118.48,160.39],"nice":false,"zero":false,"padding":0},"axis":{"title":null,"orient":"right","domain":false,"ticks":false,"grid":false,"labelPadding":-107,"labelAlign":"left","labelColor":"#b2b5be","labelFontSize":28,"labelFont":"Inter","labelOverlap":false,"labelFlush":false,"values":[120,122,124,126,128,130,132,134,136,138,140,142,144,146,148,150,152,154,156,158,160],"format":".2f","labelFontWeight":{"condition":{"test":"datum.value%10==0","value":700},"value":400}}}}},
{"mark":{"type":"rule","size":1.6},"encoding":{"x":{"field":"i","type":"quantitative"},"y":{"field":"l","type":"quantitative"},"y2":{"field":"h"},"color":{"condition":{"test":"datum.c>=datum.o","value":"#22a796"},"value":"#f35252"}}},
{"mark":{"type":"bar","size":10,"strokeWidth":1,"orient":"vertical"},"encoding":{"x":{"field":"i","type":"quantitative"},"y":{"field":"o","type":"quantitative"},"y2":{"field":"c"},"color":{"condition":{"test":"datum.c>=datum.o","value":"#22a796"},"value":"#f35252"},"stroke":{"condition":{"test":"datum.c>=datum.o","value":"#22a796"},"value":"#f35252"}}},
{"data":{"values":[{"i":56},{"i":113}]},"mark":{"type":"point","filled":true,"fill":"#ffffff","stroke":"#089981","strokeWidth":3,"opacity":1,"size":7056,"shape":"M-0.48 -0.22L0 -0.5L0.48 -0.22V0.5H-0.48Z"},"encoding":{"x":{"field":"i","type":"quantitative"},"y":{"datum":120.39}}},
{"data":{"values":[{"i":56,"label":"E"},{"i":113,"label":"E"}]},"mark":{"type":"text","font":"Inter","fontSize":26,"fontWeight":700,"color":"#089981"},"encoding":{"x":{"field":"i","type":"quantitative"},"y":{"datum":120.3},"text":{"field":"label"}}},
{"data":{"values":[{"price":153.62,"tag":"up"},{"price":149.18,"tag":"level"}]},"mark":{"type":"bar","orient":"horizontal","size":38,"cornerRadius":3},"encoding":{"x":{"datum":137.3,"type":"quantitative"},"x2":{"datum":146.7},"y":{"field":"price","type":"quantitative"},"color":{"field":"tag","type":"nominal","scale":{"domain":["up","level"],"range":["#22a796","#2962ff"]},"legend":null}}},
{"data":{"values":[{"price":153.62},{"price":149.18}]},"mark":{"type":"text","font":"Inter","fontSize":28,"color":"#ffffff"},"encoding":{"x":{"datum":142.1,"type":"quantitative"},"y":{"field":"price","type":"quantitative"},"text":{"field":"price","type":"quantitative","format":".2f"}}},
{"data":{"values":[{"label":"JCI · 1D · NYSE"}]},"mark":{"type":"text","font":"Inter","fontSize":26,"color":"#b2b5be","align":"left"},"encoding":{"x":{"datum":1.9,"type":"quantitative"},"y":{"datum":159.7},"text":{"field":"label"}}}
]}
]}
